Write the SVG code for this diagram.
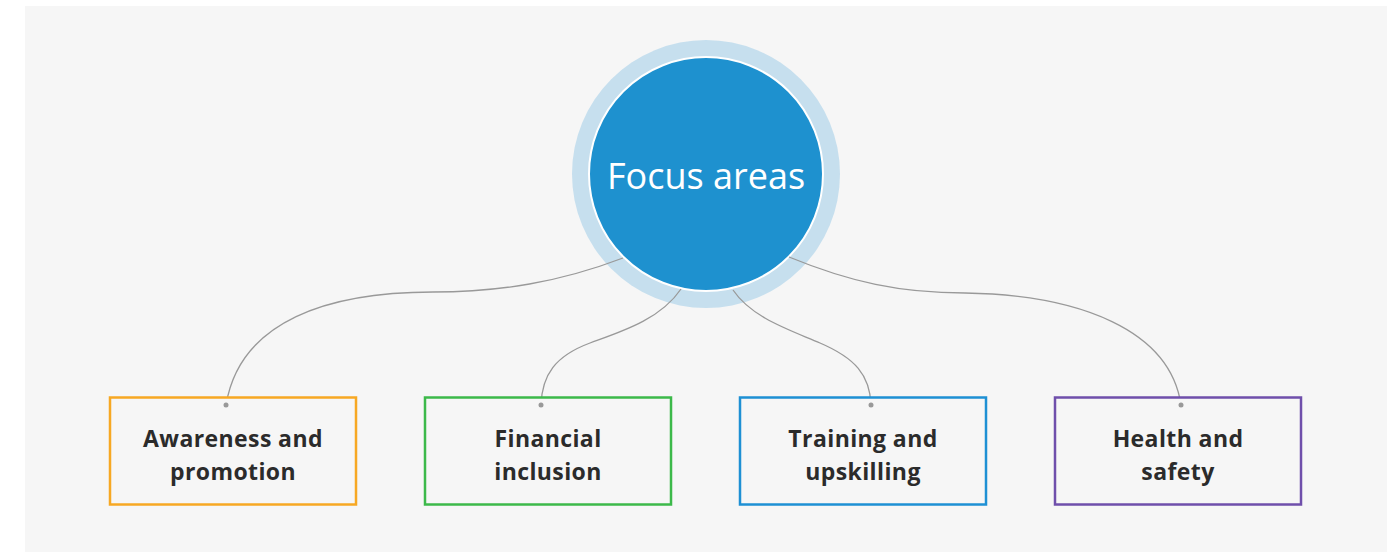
<svg xmlns="http://www.w3.org/2000/svg" width="1396" height="552" viewBox="0 0 1396 552">
<style>
.box{fill:#f6f6f6;stroke-width:2.5}
.lbl{font-family:"Open Sans","Noto Sans",sans-serif;font-weight:700;font-size:23px;letter-spacing:0.4px;fill:#2b2b2b;text-anchor:middle}
.conn{fill:none;stroke:#999;stroke-width:1.3}
.dot{fill:#999}
</style>
<rect x="0" y="0" width="1396" height="552" fill="#ffffff"/>
<rect x="25" y="6" width="1362" height="546" fill="#f6f6f6"/>
<g id="center">
<circle cx="706" cy="174" r="134" fill="#c6dfee"/>
<circle cx="706" cy="174" r="117" fill="#1e91cf" stroke="#ffffff" stroke-width="2"/>
<text x="706" y="189" font-family="'Open Sans','Noto Sans',sans-serif" font-size="36" fill="#ffffff" text-anchor="middle">Focus areas</text>
</g>
<g id="connectors">
<path class="conn" d="M623,258 C560,282 500,292 433,292 C330,292 240,320 226,405"/>
<path class="conn" d="M681,289 C660,320 620,332 590,343 C555,356 542,375 541,405"/>
<path class="conn" d="M733,290 C752,318 790,330 820,343 C855,358 870,375 871,405"/>
<path class="conn" d="M789,257 C850,282 900,293 965,293 C1080,295 1170,330 1181,405"/>
</g>
<g id="node1">
<rect class="box" x="110" y="397.5" width="246" height="107" stroke="#f7a823"/>
<circle class="dot" cx="226" cy="405" r="2.5"/>
<text class="lbl" x="233" y="447">Awareness and</text>
<text class="lbl" x="233" y="479.5">promotion</text>
</g>
<g id="node2">
<rect class="box" x="425" y="397.5" width="246" height="107" stroke="#3cb94a"/>
<circle class="dot" cx="541" cy="405" r="2.5"/>
<text class="lbl" x="548" y="447">Financial</text>
<text class="lbl" x="548" y="479.5">inclusion</text>
</g>
<g id="node3">
<rect class="box" x="740" y="397.5" width="246" height="107" stroke="#1e90d4"/>
<circle class="dot" cx="871" cy="405" r="2.5"/>
<text class="lbl" x="863" y="447">Training and</text>
<text class="lbl" x="863" y="479.5">upskilling</text>
</g>
<g id="node4">
<rect class="box" x="1055" y="397.5" width="246" height="107" stroke="#6f4fab"/>
<circle class="dot" cx="1181" cy="405" r="2.5"/>
<text class="lbl" x="1178" y="447">Health and</text>
<text class="lbl" x="1178" y="479.5">safety</text>
</g>
</svg>
